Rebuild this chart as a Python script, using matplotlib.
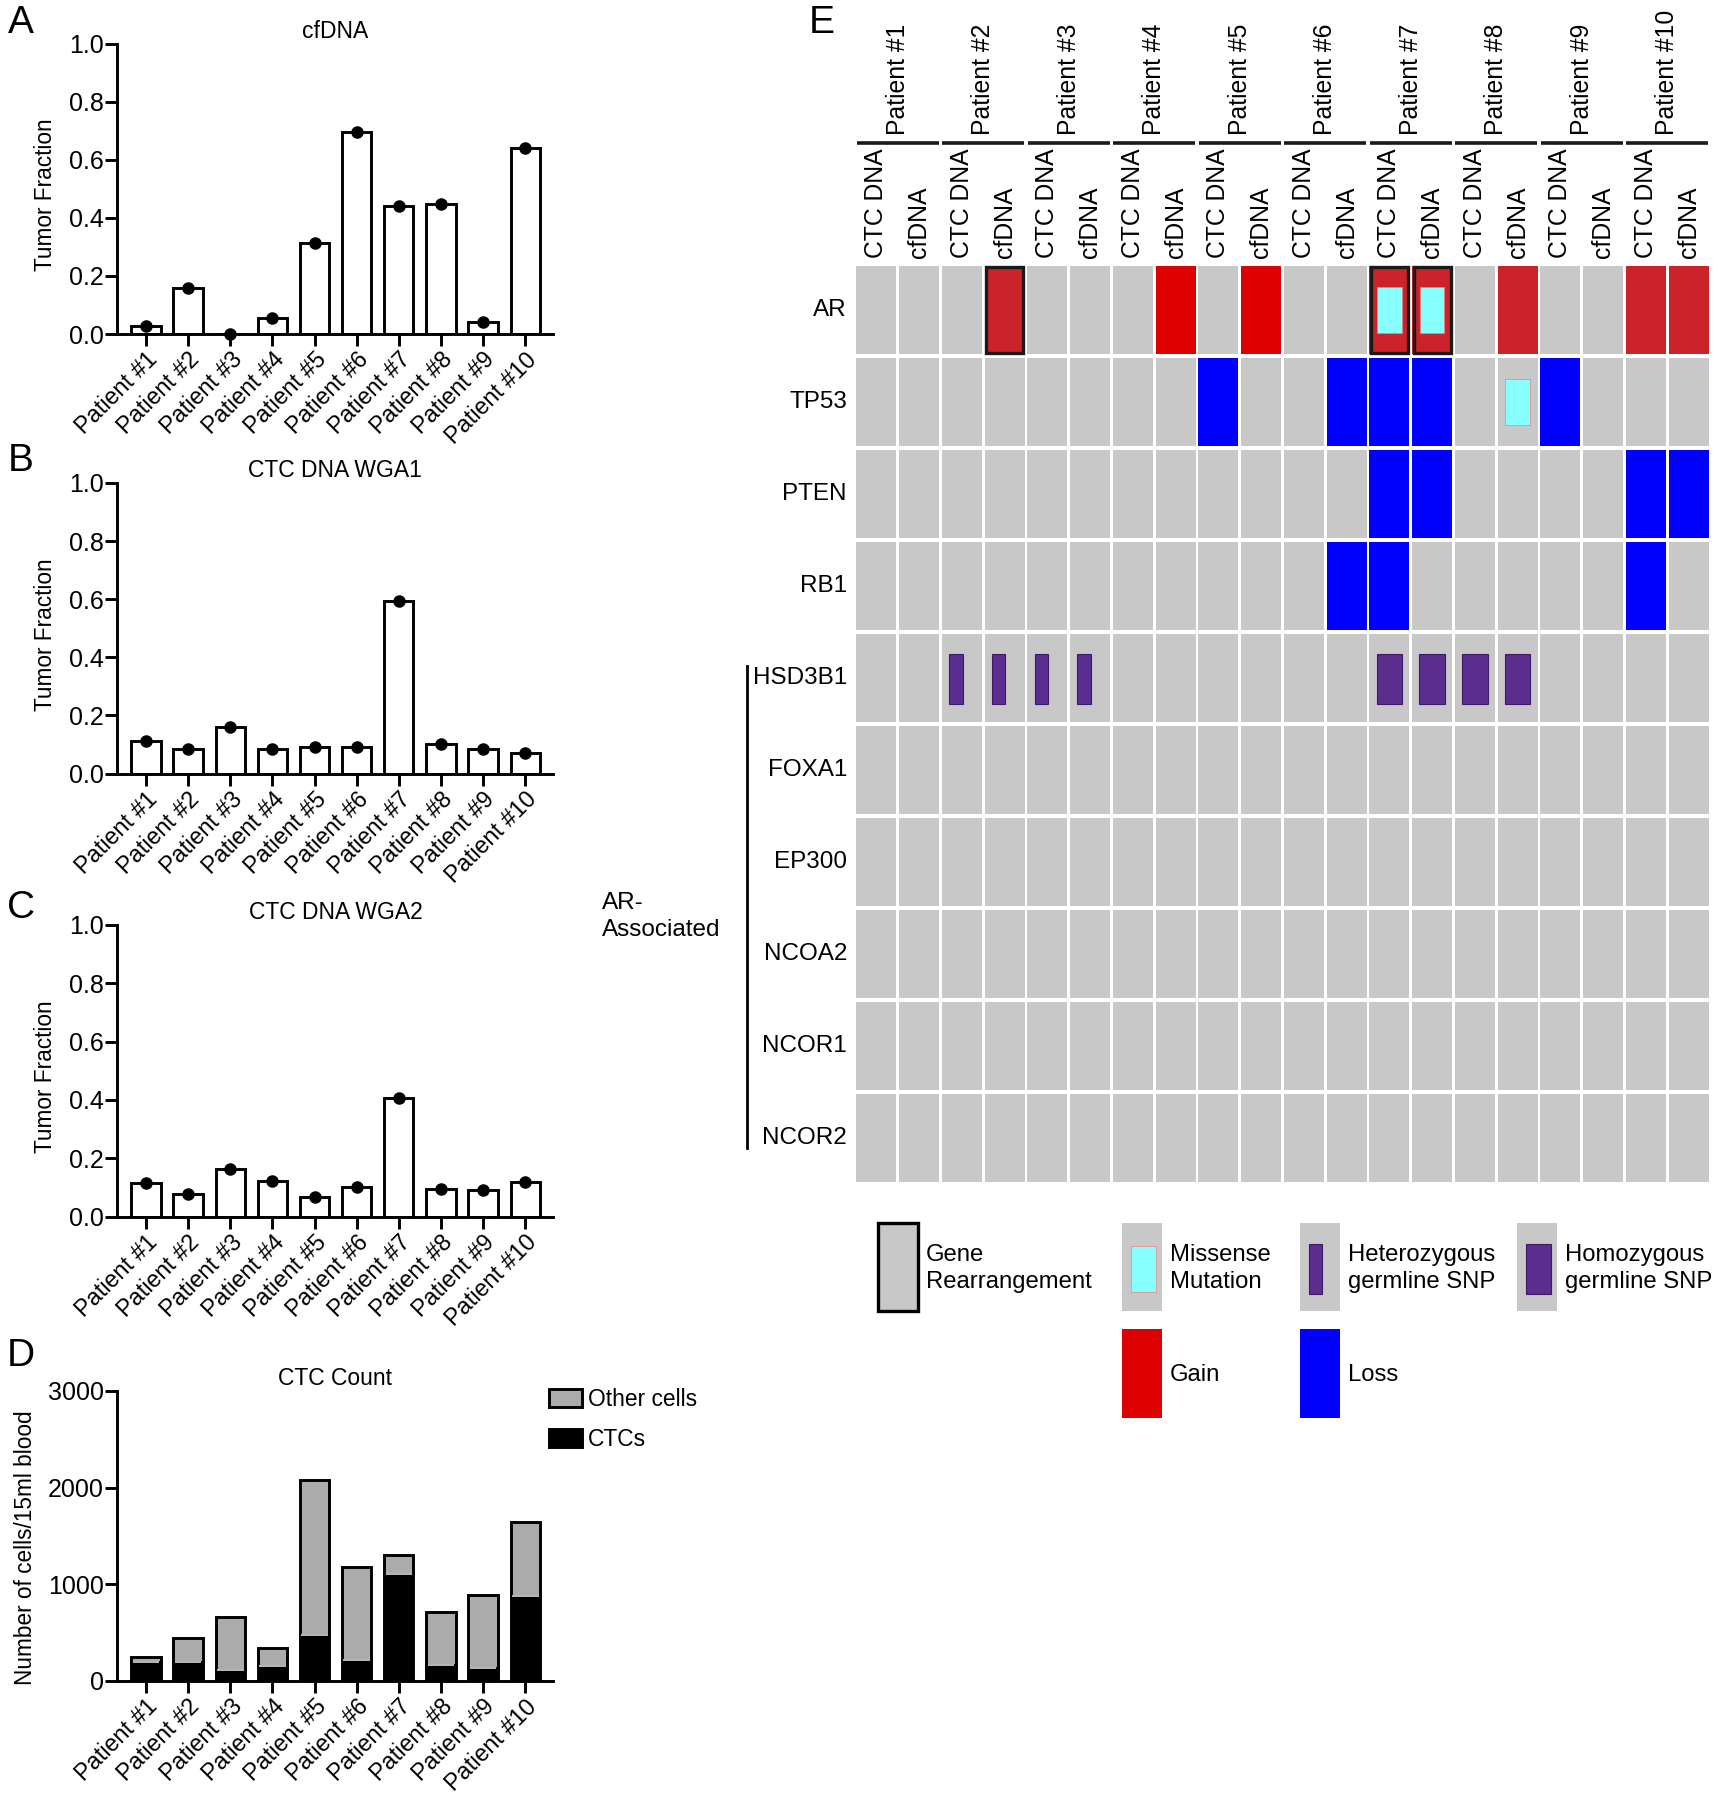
import matplotlib
matplotlib.use("Agg")
import matplotlib.pyplot as plt
from matplotlib.patches import Rectangle
import numpy as np

plt.rcParams['font.family'] = ['Liberation Sans', 'DejaVu Sans']

# ---- data ----
patients = ["Patient #1", "Patient #2", "Patient #3", "Patient #4", "Patient #5",
            "Patient #6", "Patient #7", "Patient #8", "Patient #9", "Patient #10"]

cfdna_tf = [0.026, 0.157, 0.0, 0.055, 0.312, 0.694, 0.440, 0.448, 0.040, 0.641]
wga1_tf = [0.113, 0.083, 0.160, 0.083, 0.090, 0.090, 0.595, 0.100, 0.084, 0.069]
wga2_tf = [0.115, 0.078, 0.163, 0.121, 0.066, 0.101, 0.408, 0.096, 0.092, 0.118]

ctcs = [193, 200, 110, 151, 471, 213, 1108, 162, 134, 884]
other_cells = [51, 244, 551, 186, 1607, 967, 192, 547, 754, 757]

genes = ["AR", "TP53", "PTEN", "RB1", "HSD3B1", "FOXA1", "EP300", "NCOA2", "NCOR1", "NCOR2"]
sample_types = ["CTC DNA", "cfDNA"]
# copy number per sample column: g = gain, D = gain (dark), l = loss
copy_number = [
    "...D...g.g..DD.D..DD",
    "........l..lll..l...",
    "............ll....ll",
    "...........ll.....l.",
    "....................",
    "....................",
    "....................",
    "....................",
    "....................",
    "....................",
]
# m = missense, h = heterozygous SNP, H = homozygous SNP
variants = [
    "............mm......",
    "...............m....",
    "....................",
    "....................",
    "..hhhh......HHHH....",
    "....................",
    "....................",
    "....................",
    "....................",
    "....................",
]
rearranged = [(0, 3), (0, 12), (0, 13)]  # (gene row, sample column)

# ---- colours ----
GRAY = '#C8C8C8'
GAIN = '#DD0000'
GAIN_DARK = '#CC2229'
LOSS = '#0000FF'
MISSENSE = '#88FFFF'
SNP = '#5B2D8E'
cn_colors = {'g': GAIN, 'D': GAIN_DARK, 'l': LOSS}

W, H = 1718, 1800
fig = plt.figure(figsize=(W / 100, H / 100), dpi=100)

AX_L, AX_R = 117.3, 553.5


def axpos(l, t, r, b):
    return [l / W, 1 - b / H, (r - l) / W, (b - t) / H]


def style_axis(ax, ymax, yticks):
    for s in ['top', 'right']:
        ax.spines[s].set_visible(False)
    for s in ['left', 'bottom']:
        ax.spines[s].set_linewidth(2.1)
    ax.set_xlim(-0.68, 9.67)
    ax.set_ylim(0, ymax)
    ax.set_yticks(yticks)
    ax.set_xticks(range(len(patients)))
    ax.set_xticklabels(patients, rotation=45, ha='right', rotation_mode='anchor', fontsize=16.8)
    ax.tick_params(axis='both', width=2.1, length=8.6)
    ax.tick_params(axis='y', labelsize=18, pad=1)
    ax.tick_params(axis='x', pad=1.5)


def tf_panel(top, bottom, values, title, letter, letter_y):
    ax = fig.add_axes(axpos(AX_L, top, AX_R, bottom))
    x = np.arange(len(values))
    ax.bar(x, values, width=0.695, color='white', edgecolor='black', linewidth=2.1, zorder=2)
    ax.plot(x, values, 'o', color='black', markersize=8, clip_on=False, zorder=3)
    style_axis(ax, 1.0, [0, 0.2, 0.4, 0.6, 0.8, 1.0])
    ax.set_yticklabels(['0.0', '0.2', '0.4', '0.6', '0.8', '1.0'])
    ax.set_ylabel('Tumor Fraction', fontsize=16.3, va='center')
    ax.yaxis.set_label_coords(-0.164, 0.479)
    ax.set_title(title, fontsize=16.5, pad=4)
    fig.text(21 / W, 1 - letter_y / H, letter, fontsize=28, ha='center', va='center')
    return ax


tf_panel(43.6, 334, cfdna_tf, 'cfDNA', 'A', 23)
tf_panel(483, 773.5, wga1_tf, 'CTC DNA WGA1', 'B', 461)
tf_panel(925, 1216.5, wga2_tf, 'CTC DNA WGA2', 'C', 908)

# ---- D: CTC count ----
axd = fig.add_axes(axpos(AX_L, 1391, AX_R, 1681))
x = np.arange(len(patients))
b_ctc = axd.bar(x, ctcs, width=0.695, color='black', edgecolor='black', linewidth=2.1, zorder=2)
b_oth = axd.bar(x, other_cells, bottom=ctcs, width=0.695, color='#ABABAB', edgecolor='black',
                linewidth=2.1, zorder=2)
axd.hlines(ctcs, x - 0.315, x + 0.315, color='#D8D8D8', linewidth=1.2, zorder=3)
style_axis(axd, 3000, [0, 1000, 2000, 3000])
axd.set_ylabel('Number of cells/15ml blood', fontsize=16.3, va='center')
axd.yaxis.set_label_coords(-0.2116, 0.46)
axd.set_title('CTC Count', fontsize=16.5, pad=4)
axd.legend([b_oth, b_ctc], ['Other cells', 'CTCs'], loc='upper left',
           bbox_to_anchor=(0.9897, 1.012), frameon=False, fontsize=16.4, handlelength=1.45,
           handleheight=0.83, handletextpad=0.26, labelspacing=0.75, borderaxespad=0, borderpad=0)
fig.text(21 / W, 1 - 1356 / H, 'D', fontsize=28, ha='center', va='center')

# ---- E: alteration grid ----
axe = fig.add_axes(axpos(855, 264, 1710, 1184))
n_cols = 2 * len(patients)
axe.set_xlim(0, n_cols)
axe.set_ylim(len(genes), 0)
axe.axis('off')
gx, gy = 0.07, 0.035
FS_E = 17.5


def cell(c, r, color, **kw):
    axe.add_patch(Rectangle((c + gx / 2, r + gy / 2), 1 - gx, 1 - gy, facecolor=color,
                            clip_on=False, **kw))


def mark(c, r, code):
    if code == 'm':
        axe.add_patch(Rectangle((c + 0.215, r + 0.25), 0.57, 0.5, facecolor=MISSENSE,
                                edgecolor='#F08080', linewidth=0.5, clip_on=False))
    elif code == 'h':
        axe.add_patch(Rectangle((c + 0.2, r + 0.235), 0.32, 0.545, facecolor=SNP,
                                edgecolor='#3C1A66', linewidth=0.8, clip_on=False))
    elif code == 'H':
        axe.add_patch(Rectangle((c + 0.2, r + 0.235), 0.6, 0.545, facecolor=SNP,
                                edgecolor='#3C1A66', linewidth=0.8, clip_on=False))


for r, g in enumerate(genes):
    for c in range(n_cols):
        cell(c, r, cn_colors.get(copy_number[r][c], GRAY))
        mark(c, r, variants[r][c])
    axe.text(-0.19, r + 0.5, g, ha='right', va='center', fontsize=FS_E)

for r, c in rearranged:
    axe.add_patch(Rectangle((c + gx / 2 + 0.03, r + gy / 2 + 0.015), 1 - gx - 0.06, 1 - gy - 0.03,
                            fill=False, edgecolor='#1A1A1A', linewidth=2.4, clip_on=False))

for i, p in enumerate(patients):
    axe.plot([2 * i + 0.04, 2 * i + 1.96], [-1.31, -1.31], color='#1A1A1A', linewidth=2.6,
             solid_capstyle='butt', clip_on=False)
    axe.text(2 * i + 1, -1.40, p, rotation=90, ha='center', va='bottom', fontsize=17.8)
    for k, s in enumerate(sample_types):
        axe.text(2 * i + k + 0.5, -0.065, s, rotation=90, ha='center', va='bottom', fontsize=17.8)

axe.plot([-2.53, -2.53], [4.37, 9.61], color='black', linewidth=2, clip_on=False)
axe.text(-5.92, 7.09, 'AR-\nAssociated', ha='left', va='center', fontsize=FS_E, linespacing=1.3)

# legend of panel E
leg_items = [
    (0.54, 10.42, GRAY, None, 'Gene\nRearrangement', True),
    (6.25, 10.42, GRAY, 'm', 'Missense\nMutation', False),
    (10.41, 10.42, GRAY, 'h', 'Heterozygous\ngermline SNP', False),
    (15.49, 10.42, GRAY, 'H', 'Homozygous\ngermline SNP', False),
    (6.25, 11.58, GAIN, None, 'Gain', False),
    (10.41, 11.58, LOSS, None, 'Loss', False),
]
for lx, ly, col, code, label, border in leg_items:
    axe.add_patch(Rectangle((lx, ly), 0.93, 0.96, facecolor=col, clip_on=False,
                            edgecolor='black' if border else 'none', linewidth=2.4))
    if code:
        mark(lx, ly, code)
    axe.text(lx + 1.12, ly + 0.5, label, ha='left', va='center', fontsize=17.2, linespacing=1.3)

fig.text(822 / W, 1 - 23 / H, 'E', fontsize=28, ha='center', va='center')

fig.savefig('out.png', dpi=100)
